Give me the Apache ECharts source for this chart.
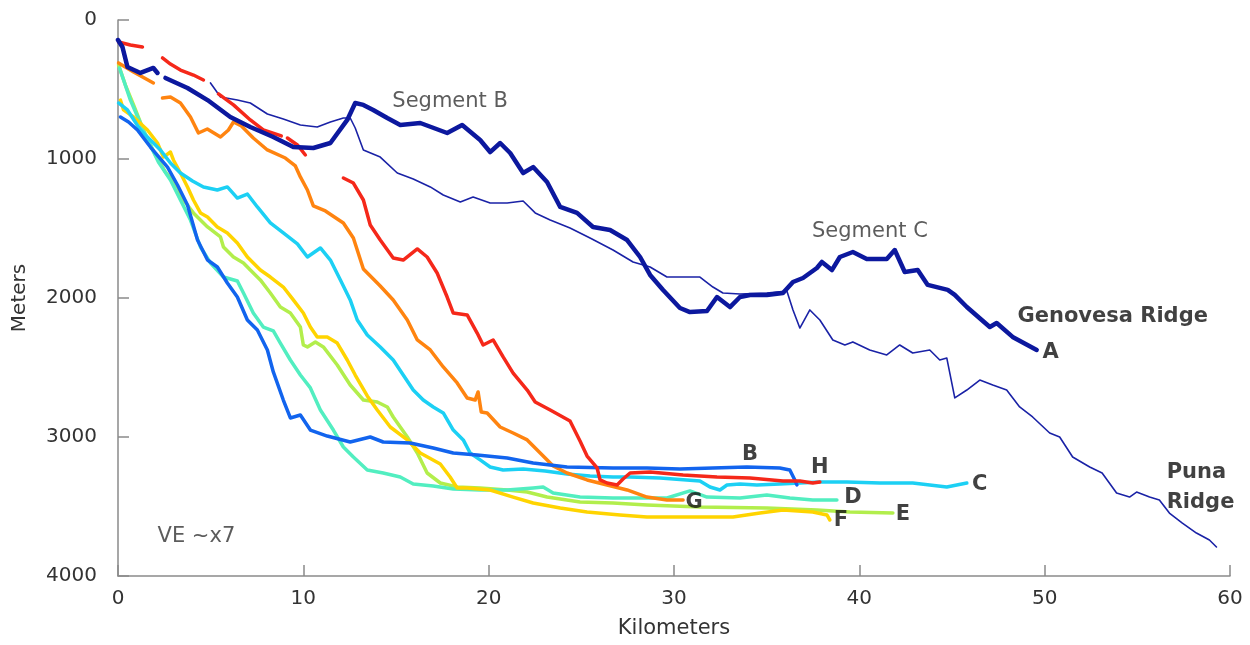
<!DOCTYPE html>
<html>
<head>
<meta charset="utf-8">
<script src="https://cdn.jsdelivr.net/npm/echarts@6/dist/echarts.min.js"></script>
<style>
html,body{margin:0;padding:0;background:#fff;}
#chart{width:1250px;height:645px;}
</style>
</head>
<body>
<div id="chart"></div>
<script>
// ---- Data (distance km, depth m) ----
const xTickLabels = ['0','10','20','30','40','50','60'];
const yTickLabels = ['0','1000','2000','3000','4000'];

const genovesaA_part1 = [[0,144],[0.24,194],[0.51,338],[1.21,381],[1.91,345],[2.13,381]];
const genovesaA = [[2.56,417],[3.75,489],[4.83,576],[6.06,698],[7.14,770],[8.38,842],[9.46,914],[10.54,921],[11.46,885],[12.37,719],[12.80,597],[13.24,611],[13.77,647],[14.53,705],[15.23,755],[16.31,741],[17.76,813],[18.57,755],[19.54,863],[20.08,950],[20.62,885],[21.16,957],[21.86,1101],[22.40,1058],[23.15,1165],[23.86,1345],[24.77,1388],[25.63,1489],[26.55,1511],[27.47,1583],[28.17,1705],[28.71,1834],[29.41,1942],[30.32,2072],[30.86,2101],[31.78,2094],[32.32,1993],[33.02,2065],[33.56,1993],[34.10,1978],[35.01,1978],[35.88,1964],[36.42,1885],[36.96,1856],[37.71,1784],[37.98,1741],[38.52,1799],[38.95,1705],[39.65,1669],[40.40,1719],[41.48,1719],[41.91,1655],[42.45,1813],[43.15,1799],[43.69,1906],[44.77,1942],[45.15,1978],[45.80,2065],[47.04,2209],[47.41,2180],[48.27,2280],[49.57,2374]];

const punaRidge = [[4.99,453],[5.53,554],[6.44,576],[7.14,597],[8.06,676],[8.92,712],[9.84,755],[10.75,770],[11.46,734],[12.16,705],[12.53,705],[12.80,777],[13.24,935],[14.15,986],[15.07,1101],[15.93,1144],[16.85,1201],[17.55,1259],[18.47,1309],[19.16,1273],[20.08,1317],[21.00,1317],[21.86,1302],[22.51,1388],[23.32,1439],[24.39,1496],[25.47,1568],[26.71,1655],[27.79,1741],[28.71,1777],[29.62,1849],[30.49,1849],[31.40,1849],[32.10,1921],[32.64,1964],[33.56,1971],[35.01,1964],[36.09,1950],[36.42,2086],[36.79,2216],[37.33,2086],[37.87,2158],[38.57,2302],[39.22,2338],[39.65,2316],[40.56,2374],[41.48,2410],[42.18,2338],[42.88,2396],[43.80,2374],[44.34,2446],[44.72,2432],[45.15,2719],[45.80,2662],[46.50,2590],[47.20,2626],[47.95,2662],[48.65,2784],[49.35,2856],[50.27,2971],[50.81,3000],[51.51,3144],[52.43,3216],[53.10,3259],[53.88,3403],[54.58,3432],[54.96,3396],[55.66,3432],[56.19,3453],[56.73,3547],[57.43,3619],[58.19,3691],[58.89,3741],[59.27,3791]];

const redH_part1 = [[0.03,158],[0.67,180],[1.32,194]];
const redH_part2 = [[2.40,273],[2.83,317],[3.37,360],[4.07,396],[4.61,432]];
const redH_part3 = [[5.42,532],[6.23,611],[7.14,719],[7.84,791],[8.81,834]];
const redH_part4 = [[9.14,849],[9.68,899],[10.11,971]];
const redH = [[12.16,1137],[12.70,1173],[13.24,1295],[13.61,1475],[14.15,1583],[14.85,1712],[15.39,1727],[16.15,1647],[16.68,1705],[17.22,1820],[17.76,1993],[18.09,2108],[18.84,2122],[19.38,2252],[19.70,2338],[20.24,2302],[20.78,2424],[21.32,2540],[22.08,2662],[22.51,2748],[23.32,2806],[24.39,2885],[24.93,3029],[25.31,3137],[25.85,3223],[26.01,3309],[26.39,3331],[26.93,3345],[27.25,3302],[27.63,3259],[28.71,3252],[30.49,3273],[32.32,3288],[34.10,3295],[35.88,3316],[36.79,3316],[37.49,3331],[37.87,3324]];

const orangeG_part1 = [[0.03,309],[0.84,374],[1.91,453]];
const orangeG = [[2.40,561],[2.83,554],[3.37,597],[3.91,698],[4.34,813],[4.82,784],[5.53,842],[5.96,791],[6.23,734],[6.66,763],[7.30,849],[8.06,935],[9.03,993],[9.57,1050],[9.84,1129],[10.22,1223],[10.54,1338],[11.19,1374],[12.16,1460],[12.70,1568],[13.24,1791],[14.15,1914],[14.85,2014],[15.61,2158],[16.15,2302],[16.85,2374],[17.55,2496],[18.30,2611],[18.84,2719],[19.27,2734],[19.43,2676],[19.60,2820],[19.92,2827],[20.62,2928],[21.32,2971],[22.08,3021],[22.78,3115],[23.48,3209],[24.23,3259],[25.31,3309],[26.39,3345],[27.47,3381],[28.54,3432],[29.62,3453],[30.49,3453]];

const cyanC = [[0.03,597],[0.51,647],[1.21,791],[1.75,863],[2.29,935],[2.83,1029],[3.37,1101],[4.02,1158],[4.61,1201],[5.36,1223],[5.90,1201],[6.44,1281],[6.98,1252],[7.52,1345],[8.22,1460],[8.92,1532],[9.68,1611],[10.22,1705],[10.92,1640],[11.46,1727],[12.00,1870],[12.53,2014],[12.91,2158],[13.45,2266],[14.15,2352],[14.85,2446],[15.39,2554],[15.93,2662],[16.47,2734],[17.01,2784],[17.55,2827],[18.09,2950],[18.63,3021],[19.00,3115],[19.54,3165],[20.08,3216],[20.78,3237],[21.86,3230],[23.05,3244],[24.23,3266],[25.47,3280],[26.71,3288],[27.63,3288],[29.25,3295],[31.40,3316],[31.94,3360],[32.48,3381],[32.86,3345],[33.56,3338],[34.47,3345],[35.71,3338],[37.87,3324],[39.33,3324],[41.11,3331],[42.88,3331],[44.72,3360],[45.80,3331]];

const blueB = [[0.13,698],[0.57,734],[1.05,791],[1.75,914],[2.67,1058],[3.21,1187],[3.75,1331],[4.29,1583],[4.83,1727],[5.36,1777],[5.90,1892],[6.44,1993],[6.98,2158],[7.52,2230],[8.06,2374],[8.38,2532],[8.92,2734],[9.30,2863],[9.84,2842],[10.38,2950],[11.29,2993],[12.53,3036],[13.61,3000],[14.31,3036],[15.77,3043],[17.01,3079],[18.09,3115],[19.38,3129],[21.00,3151],[22.40,3187],[24.23,3216],[26.71,3223],[28.54,3223],[30.32,3230],[32.10,3223],[33.93,3216],[35.71,3223],[36.25,3237],[36.52,3309],[36.63,3345]];

const tealD = [[0.08,345],[0.67,576],[1.48,827],[2.18,1022],[2.83,1151],[3.37,1295],[3.91,1439],[4.45,1633],[4.99,1748],[5.69,1849],[6.44,1878],[6.77,1964],[7.30,2108],[7.84,2209],[8.38,2237],[8.76,2324],[9.30,2446],[9.84,2554],[10.38,2647],[10.92,2806],[11.62,2950],[12.16,3072],[12.70,3144],[13.45,3237],[14.31,3259],[15.23,3288],[15.93,3338],[17.01,3352],[18.09,3374],[19.54,3381],[21.00,3381],[22.40,3367],[22.94,3360],[23.48,3403],[24.93,3432],[26.71,3439],[28.54,3439],[29.62,3439],[30.86,3388],[31.78,3432],[33.56,3439],[35.01,3417],[36.25,3439],[37.49,3453],[38.79,3453]];

const greenE = [[0.03,324],[0.40,468],[0.84,611],[1.37,791],[2.02,971],[2.56,1094],[3.21,1201],[3.53,1295],[4.07,1388],[4.83,1489],[5.53,1561],[5.69,1633],[6.23,1705],[6.77,1748],[7.14,1799],[7.68,1870],[8.22,1964],[8.76,2065],[9.30,2108],[9.84,2209],[10.00,2338],[10.22,2352],[10.65,2316],[11.08,2352],[11.83,2482],[12.53,2626],[13.24,2734],[13.99,2748],[14.53,2784],[14.85,2856],[15.61,3000],[16.15,3115],[16.68,3259],[17.39,3331],[18.30,3360],[19.54,3367],[21.00,3381],[22.08,3396],[23.15,3432],[24.93,3468],[26.71,3475],[28.54,3489],[29.97,3496],[31.40,3504],[35.01,3511],[37.71,3525],[39.49,3539],[41.81,3547]];

const yellowF = [[0.13,576],[0.30,647],[0.84,698],[1.59,791],[2.13,885],[2.45,986],[2.83,950],[2.99,1007],[3.37,1101],[3.75,1201],[4.07,1295],[4.45,1388],[4.83,1417],[5.36,1489],[5.90,1532],[6.44,1604],[6.98,1705],[7.68,1799],[8.22,1849],[8.92,1921],[9.46,2014],[10.00,2108],[10.38,2209],[10.75,2280],[11.29,2280],[11.83,2324],[12.37,2446],[12.80,2554],[13.45,2705],[13.99,2806],[14.69,2928],[15.61,3021],[16.31,3115],[17.39,3194],[17.92,3288],[18.30,3367],[18.84,3367],[20.08,3381],[21.32,3432],[22.40,3475],[23.86,3511],[25.31,3539],[27.09,3561],[28.54,3575],[30.32,3575],[33.18,3575],[34.64,3547],[35.88,3525],[37.49,3539],[38.25,3561],[38.41,3597]];

// annotation anchors [km, m, text, bold]
const annotations = [
  [17.92, 590, 'Segment B', false],
  [40.57, 1525, 'Segment C', false],
  [53.67, 2137, 'Genovesa Ridge', true],
  [50.32, 2396, 'A', true],
  [58.19, 3259, 'Puna', true],
  [58.41, 3475, 'Ridge', true],
  [34.10, 3129, 'B', true],
  [37.87, 3223, 'H', true],
  [46.50, 3345, 'C', true],
  [39.65, 3432, 'D', true],
  [42.35, 3561, 'E', true],
  [39.00, 3604, 'F', true],
  [31.08, 3468, 'G', true],
  [4.23, 3719, 'VE ~x7', false]
];

const FONT = 'DejaVu Sans';
const navy = '#0c189e';

function line(data, color, width, z) {
  return {
    type: 'line', data: data, showSymbol: false, symbol: 'none',
    smooth: false, z: z || 2, silent: true,
    lineStyle: { color: color, width: width, cap: 'round', join: 'round' }
  };
}

const chart = echarts.init(document.getElementById('chart'));
chart.setOption({
  animation: false,
  backgroundColor: '#ffffff',
  grid: { left: 118, right: 20, top: 20, bottom: 69, containLabel: false },
  xAxis: {
    type: 'value', min: 0, max: 60, interval: 10, position: 'bottom',
    name: 'Kilometers', nameLocation: 'middle', nameGap: 42,
    nameTextStyle: { fontFamily: FONT, fontSize: 21, color: '#333' },
    axisLine: { show: true, onZero: false, lineStyle: { color: '#8a8a8a', width: 1.5 } },
    axisTick: { show: true, inside: true, length: 11, lineStyle: { color: '#8a8a8a', width: 1.5 } },
    axisLabel: { fontFamily: FONT, fontSize: 20, color: '#333', margin: 13,
      formatter: function (v) { return xTickLabels[Math.round(v / 10)]; } },
    splitLine: { show: false }
  },
  yAxis: {
    type: 'value', min: 0, max: 4000, interval: 1000, inverse: true, position: 'left',
    name: 'Meters', nameLocation: 'middle', nameGap: 88, nameRotate: 90,
    nameTextStyle: { fontFamily: FONT, fontSize: 20, color: '#333' },
    axisLine: { show: true, onZero: false, lineStyle: { color: '#8a8a8a', width: 1.5 } },
    axisTick: { show: true, inside: true, length: 11, lineStyle: { color: '#8a8a8a', width: 1.5 } },
    axisLabel: { fontFamily: FONT, fontSize: 20, color: '#333', margin: 21,
      formatter: function (v) { return yTickLabels[Math.round(v / 1000)]; } },
    splitLine: { show: false }
  },
  series: [
    line(punaRidge, '#1a22a6', 1.6, 3),
    line(greenE, '#b2ee4c', 3.5, 4),
    line(tealD, '#52eec0', 3.5, 4),
    line(yellowF, '#ffd400', 3.5, 5),
    line(cyanC, '#1cd0f4', 3.5, 5),
    line(orangeG_part1, '#ff8410', 3.5, 6),
    line(orangeG, '#ff8410', 3.5, 6),
    line(blueB, '#1264ee', 3.5, 6),
    line(redH_part1, '#f5281a', 3.5, 7),
    line(redH_part2, '#f5281a', 3.5, 7),
    line(redH_part3, '#f5281a', 3.5, 7),
    line(redH_part4, '#f5281a', 3.5, 7),
    line(redH, '#f5281a', 3.5, 7),
    line(genovesaA_part1, navy, 4.5, 8),
    line(genovesaA, navy, 4.5, 8),
    {
      type: 'scatter', symbolSize: 0, silent: true, z: 10,
      data: annotations.map(function (a) { return { value: [a[0], a[1]], name: a[2],
        label: { fontWeight: a[3] ? 'bold' : 'normal', color: a[3] ? '#111' : '#333' } }; }),
      label: { show: true, position: 'inside', fontFamily: FONT, fontSize: 21,
        formatter: function (p) { return p.name; } }
    }
  ]
});
</script>
</body>
</html>
